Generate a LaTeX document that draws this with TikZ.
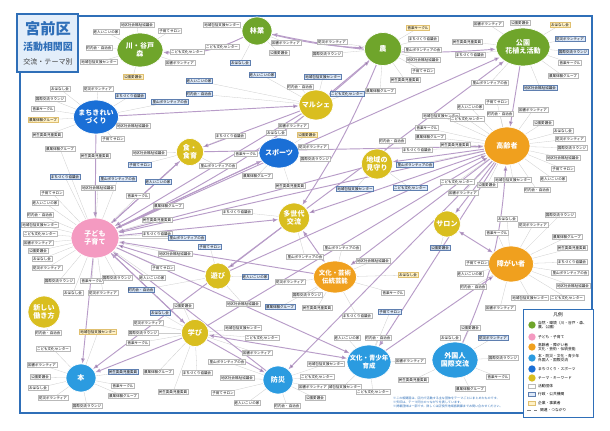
\documentclass[tikz,border=0pt]{standalone}
\usepackage{fontspec}
\setmainfont{Noto Sans CJK JP}
\usetikzlibrary{shapes.geometric,arrows.meta}

\definecolor{hgreen}{HTML}{6FA52B}
\definecolor{hpink}{HTML}{F49AC1}
\definecolor{horange}{HTML}{F0A01E}
\definecolor{hyellow}{HTML}{D9BE1F}
\definecolor{hnavy}{HTML}{1A6FD6}
\definecolor{hblue}{HTML}{2B9BE0}
\definecolor{linkc}{HTML}{B89CC8}
\definecolor{framec}{HTML}{2F6FB8}
\definecolor{titlefill}{HTML}{E3EEFA}
\definecolor{boxblue}{HTML}{DCE8F8}
\definecolor{boxblueline}{HTML}{5F7FB0}
\definecolor{boxyellow}{HTML}{FFF1C6}
\definecolor{boxyellowline}{HTML}{E0C070}

\pgfdeclarelayer{bg}
\pgfdeclarelayer{arr}
\pgfsetlayers{bg,arr,main}

% names for the small group boxes
\newcommand\grpname[1]{\ifcase#1 里山ボランティアの会\or 地区社会福祉協議会\or 子育てサロン\or 老人いこいの家\or 町内会・自治会\or 地域包括支援センター\or こども文化センター\or 図書ボランティア\or 公園愛護会\or おはなし会\or 防災ボランティア\or 国際交流ラウンジ\or 音楽サークル\or 農業体験グループ\or 民生委員児童委員\or まちづくり協議会\fi}

\begin{document}
\begin{tikzpicture}[x=0.03cm,y=-0.03cm,>={Latex[length=4.5pt,width=3.5pt]},
  hub/.style={ellipse,draw=white,line width=0.6pt,inner sep=0pt},
  hubtext/.style={text=white,font=\fontsize{6}{7}\selectfont\bfseries,align=center},
  wbox/.style={draw=gray!55,fill=white,inner sep=0.8pt,line width=0.3pt,font=\fontsize{3}{3.5}\selectfont},
  bbox/.style={wbox,fill=boxblue,draw=boxblueline},
  ybox/.style={wbox,fill=boxyellow,draw=boxyellowline},
  tie/.style={gray!40,line width=0.25pt},
  link/.style={draw=linkc,line width=0.8pt,->},
  legtext/.style={anchor=west,font=\fontsize{3.2}{3.8}\selectfont,align=left,inner sep=0pt}]

\begin{pgfonlayer}{bg}
\fill[white] (0,0) rectangle (610,431);
\end{pgfonlayer}
\draw[framec,line width=0.9pt] (20,16) rectangle (592,413);

% title
\draw[framec,fill=titlefill,line width=0.9pt] (17,14) rectangle (78,72);
\node[text=framec,font=\fontsize{13}{14}\selectfont\bfseries] (title) at (48,29) {宮前区};
\node[text=framec,font=\fontsize{8.5}{9}\selectfont\bfseries] (subtitle) at (48,47) {活動相関図};
\node[text=black!75,font=\fontsize{6}{7}\selectfont] (theme) at (48,62) {交流・テーマ別};

% themes
\node[hub,fill=hgreen,minimum width=1.38cm,minimum height=1.02cm,label={[hubtext]center:川・谷戸\\森}] (kawa) at (140,50) {};
\node[hub,fill=hgreen,minimum width=0.9cm,minimum height=0.84cm,label={[hubtext]center:林業}] (rin) at (257,31) {};
\node[hub,fill=hgreen,minimum width=1.11cm,minimum height=0.99cm,label={[hubtext]center:農}] (nou) at (383,49) {};
\node[hub,fill=hgreen,minimum width=1.62cm,minimum height=1.14cm,label={[hubtext]center:公園\\花植え活動}] (koen) at (523,47) {};
\node[hub,fill=hnavy,minimum width=1.35cm,minimum height=1.02cm,label={[hubtext]center:まちきれい\\づくり}] (machi) at (96,117) {};
\node[hub,fill=hyellow,minimum width=1.02cm,minimum height=0.9cm,label={[hubtext]center:マルシェ}] (marche) at (316,105) {};
\node[hub,fill=hyellow,minimum width=0.81cm,minimum height=0.81cm,label={[hubtext]center:食・\\食育}] (shoku) at (190,152) {};
\node[hub,fill=hnavy,minimum width=1.2cm,minimum height=0.9cm,label={[hubtext]center:スポーツ}] (sports) at (279,153) {};
\node[hub,fill=horange,minimum width=1.38cm,minimum height=1.14cm,label={[hubtext]center:高齢者}] (kourei) at (507,146) {};
\node[hub,fill=hyellow,minimum width=0.93cm,minimum height=0.9cm,label={[hubtext]center:地域の\\見守り}] (mimamori) at (377,164) {};
\node[hub,fill=hyellow,minimum width=0.93cm,minimum height=0.9cm,label={[hubtext]center:多世代\\交流}] (tasedai) at (294,218) {};
\node[hub,fill=hpink,minimum width=1.44cm,minimum height=1.2cm,label={[hubtext]center:子ども\\子育て}] (kodomo) at (95,238) {};
\node[hub,fill=hyellow,minimum width=0.81cm,minimum height=0.78cm,label={[hubtext]center:サロン}] (salon) at (447,224) {};
\node[hub,fill=hyellow,minimum width=0.78cm,minimum height=0.78cm,label={[hubtext]center:遊び}] (asobi) at (218,276) {};
\node[hub,fill=horange,minimum width=1.29cm,minimum height=0.96cm,label={[hubtext,font=\fontsize{5.5}{6.5}\selectfont\bfseries]center:文化・芸術\\伝統芸能}] (bunka) at (335,277) {};
\node[hub,fill=horange,minimum width=1.35cm,minimum height=1.08cm,label={[hubtext]center:障がい者}] (shogai) at (511,264) {};
\node[hub,fill=hyellow,minimum width=0.96cm,minimum height=0.96cm,label={[hubtext]center:新しい\\働き方}] (hataraki) at (44,312) {};
\node[hub,fill=hyellow,minimum width=0.81cm,minimum height=0.81cm,label={[hubtext]center:学び}] (manabi) at (195,333) {};
\node[hub,fill=hblue,minimum width=0.9cm,minimum height=0.84cm,label={[hubtext]center:本}] (hon) at (81,378) {};
\node[hub,fill=hblue,minimum width=0.9cm,minimum height=0.84cm,label={[hubtext]center:防災}] (bousai) at (278,380) {};
\node[hub,fill=hblue,minimum width=1.32cm,minimum height=1.02cm,label={[hubtext,font=\fontsize{5.5}{6.5}\selectfont\bfseries]center:文化・青少年\\育成}] (seishonen) at (369,362) {};
\node[hub,fill=hblue,minimum width=1.38cm,minimum height=1.08cm,label={[hubtext]center:外国人\\国際交流}] (gaikoku) at (455,360) {};

% groups around each theme
\foreach \bx/\by/\hb/\st [count=\i] in {
  137/25/kawa/wbox, 170/31/kawa/wbox, 106/32/kawa/wbox, 99/48/kawa/wbox, 99/62/kawa/wbox,
  187/52/kawa/wbox, 180/63/kawa/wbox, 133/77/kawa/ybox,
  60/89/machi/wbox, 98/89/machi/wbox, 50/99/machi/wbox, 43/109/machi/wbox, 43/120/machi/ybox,
  47/135/machi/wbox, 130/96/machi/bbox, 170/102/machi/bbox, 133/126/machi/wbox, 113/139/machi/wbox,
  199/81/marche/bbox, 199/94/marche/bbox,
  222/25/rin/wbox, 222/47/rin/wbox, 286/43/rin/wbox, 279/53/rin/wbox, 240/63/rin/bbox,
  332/42/nou/wbox, 327/54/nou/wbox, 418/28/nou/ybox, 380/91/nou/wbox, 405/80/nou/wbox,
  423/39/nou/wbox, 423/50/nou/wbox, 423/60/nou/wbox, 423/71/nou/wbox,
  262/75/marche/bbox, 300/87/marche/wbox, 323/77/marche/bbox, 347/94/marche/bbox, 293/126/marche/wbox,
  307/135/sports/ybox, 276/133/sports/wbox, 313/147/sports/wbox, 315/159/sports/wbox,
  246/154/sports/wbox, 257/176/sports/wbox, 290/186/sports/wbox,
  230/136/shoku/wbox, 218/166/shoku/wbox, 149/153/shoku/wbox, 140/165/shoku/bbox, 158/182/shoku/bbox,
  392/141/mimamori/wbox, 355/189/mimamori/bbox, 410/188/mimamori/bbox,
  488/24/koen/wbox, 520/23/koen/wbox, 560/25/koen/ybox, 570/39/koen/bbox, 573/52/koen/bbox,
  570/63/koen/wbox, 563/76/koen/wbox, 467/42/koen/wbox, 470/55/koen/wbox, 490/83/koen/wbox, 540/88/koen/bbox,
  497/102/kourei/wbox, 470/107/kourei/wbox, 500/114/kourei/wbox, 441/116/kourei/wbox, 467/119/kourei/wbox,
  533/110/kourei/wbox, 543/123/kourei/wbox, 563/131/kourei/wbox, 570/139/kourei/wbox, 572/148/kourei/wbox,
  427/128/kourei/wbox, 430/137/kourei/wbox, 455/145/kourei/wbox, 417/150/kourei/wbox, 415/165/kourei/bbox,
  563/158/kourei/wbox, 563/169/kourei/wbox, 553/179/kourei/wbox, 537/190/kourei/wbox, 513/180/kourei/wbox,
  457/182/kourei/wbox, 463/193/kourei/wbox, 487/185/kourei/wbox,
  507/219/shogai/wbox, 533/225/shogai/wbox, 560/215/shogai/wbox, 497/233/shogai/wbox, 567/237/shogai/wbox,
  572/248/shogai/wbox, 572/262/shogai/wbox, 570/273/shogai/wbox, 573/286/shogai/wbox,
  477/263/shogai/wbox, 470/274/shogai/wbox, 473/287/shogai/wbox, 530/298/shogai/wbox, 567/298/shogai/wbox, 500/308/shogai/wbox,
  440/248/salon/bbox,
  408/275/bunka/ybox, 290/282/bunka/wbox, 307/295/bunka/wbox, 393/293/bunka/wbox, 280/307/bunka/bbox,
  317/308/bunka/wbox, 357/316/bunka/wbox, 342/248/bunka/wbox, 373/261/bunka/wbox,
  390/312/seishonen/bbox, 347/338/seishonen/wbox, 378/338/seishonen/wbox, 343/387/seishonen/wbox,
  373/392/seishonen/wbox, 410/361/seishonen/wbox,
  470/328/gaikoku/wbox, 450/338/gaikoku/wbox, 493/338/gaikoku/bbox, 503/358/gaikoku/wbox,
  498/377/gaikoku/wbox, 470/389/gaikoku/wbox, 413/380/gaikoku/wbox,
  237/212/tasedai/wbox, 305/257/tasedai/wbox,
  243/304/asobi/wbox, 210/247/asobi/bbox, 255/277/asobi/bbox, 141/290/asobi/bbox,
  243/328/manabi/wbox, 262/338/manabi/wbox, 257/353/manabi/wbox, 183/306/manabi/wbox, 160/313/manabi/bbox,
  148/323/manabi/wbox, 143/333/manabi/wbox, 138/343/manabi/wbox, 158/372/manabi/wbox, 173/392/manabi/wbox, 197/373/manabi/wbox,
  227/362/bousai/wbox, 237/378/bousai/wbox, 223/393/bousai/wbox, 247/403/bousai/wbox, 287/406/bousai/wbox,
  326/364/bousai/wbox, 317/377/bousai/wbox, 313/387/bousai/wbox, 315/398/bousai/wbox,
  73/293/kodomo/wbox, 103/293/kodomo/wbox, 59/281/kodomo/wbox, 92/281/kodomo/wbox, 60/149/kodomo/wbox,
  95/156/kodomo/wbox, 65/177/kodomo/bbox, 118/179/kodomo/bbox, 98/188/kodomo/wbox, 52/193/kodomo/wbox,
  45/203/kodomo/wbox, 40/215/kodomo/wbox, 40/225/kodomo/wbox, 40/234/kodomo/wbox, 38/243/kodomo/wbox,
  38/251/kodomo/wbox, 42/259/kodomo/wbox, 47/268/kodomo/wbox, 117/278/kodomo/wbox, 138/196/kodomo/wbox,
  168/206/kodomo/wbox, 157/220/kodomo/wbox, 157/234/kodomo/wbox, 187/238/kodomo/bbox, 175/254/kodomo/wbox,
  163/268/kodomo/wbox, 152/278/kodomo/wbox,
  48/333/hataraki/wbox,
  98/332/hon/ybox, 53/349/hon/wbox, 42/365/hon/wbox, 40/377/hon/wbox, 38/388/hon/wbox, 53/398/hon/wbox,
  87/406/hon/wbox, 123/386/hon/wbox, 123/396/hon/wbox, 123/372/hon/bbox} {
  \pgfmathtruncatemacro\k{mod(\i,16)}
  \node[\st] (b\i) at (\bx,\by) {\grpname{\k}};
  \begin{pgfonlayer}{bg}
    \draw[tie] (b\i) -- (\hb);
  \end{pgfonlayer}
}

% links between themes
\begin{pgfonlayer}{arr}
\path[link]
  (rin) edge[<->,bend right=8] (koen)
  (rin) edge[bend right=5] (nou)
  (rin) edge[bend left=15] (kawa)
  (machi) edge (marche)
  (nou) edge (marche)
  (kodomo) edge[bend right=8] (nou)
  (marche) edge (shoku)
  (kodomo) edge (shoku)
  (nou) edge[bend left=5] (tasedai)
  (kourei) edge (tasedai)
  (tasedai) edge[<->] (bunka)
  (kodomo) edge (tasedai)
  (kodomo) edge (sports)
  (kourei) edge (mimamori)
  (kourei) edge (salon)
  (salon) edge[<->] (shogai)
  (koen) edge (kourei)
  (kodomo) edge (koen)
  (tasedai) edge (koen)
  (machi) edge (kodomo)
  (shoku) edge (kodomo)
  (marche) edge (kodomo)
  (sports) edge (kodomo)
  (mimamori) edge (kodomo)
  (kourei) edge (kodomo)
  (asobi) edge (kodomo)
  (bunka) edge (kodomo)
  (manabi) edge (kodomo)
  (bousai) edge (kodomo)
  (kodomo) edge (hon)
  (tasedai) edge (hon)
  (manabi) edge (hon)
  (kodomo) edge (manabi)
  (manabi) edge[<->] (seishonen)
  (manabi) edge (bousai)
  (kourei) edge (bousai)
  (kodomo) edge (seishonen)
  (kourei) edge (seishonen)
  (seishonen) edge (shogai)
  (kourei) edge (bunka)
  (tasedai) edge (asobi)
  (gaikoku) edge[bend right=10] (kourei)
  (asobi) edge (kourei)
  (manabi) edge (kourei)
  (shoku) edge (kourei)
  ;
\end{pgfonlayer}

% legend
\draw[framec,fill=white,line width=0.8pt] (523,309) rectangle (593,417);
\node[font=\fontsize{4}{5}\selectfont] (legtitle) at (558,315) {凡例};
\node[circle,fill=hgreen,minimum size=0.22cm,inner sep=0pt] (lg1) at (532,325) {};
\node[legtext] at (538,325) {自然・環境（川・谷戸・森、\\農、公園）};
\node[circle,fill=hpink,minimum size=0.22cm,inner sep=0pt] (lg2) at (532,337) {};
\node[legtext] at (538,337) {子ども・子育て};
\node[circle,fill=horange,minimum size=0.22cm,inner sep=0pt] (lg3) at (532,347) {};
\node[legtext] at (538,347) {高齢者・障がい者\\文化・芸術・伝統芸能};
\node[circle,fill=hblue,minimum size=0.22cm,inner sep=0pt] (lg4) at (532,358) {};
\node[legtext] at (538,358) {本・防災・文化・青少年\\外国人・国際交流};
\node[circle,fill=hnavy,minimum size=0.22cm,inner sep=0pt] (lg5) at (532,369) {};
\node[legtext] at (538,369) {まちづくり・スポーツ};
\node[circle,fill=hyellow,minimum size=0.22cm,inner sep=0pt] (lg6) at (532,378) {};
\node[legtext] at (538,378) {テーマ・キーワード};
\node[wbox,minimum width=0.22cm,minimum height=0.12cm] (lg7) at (532,386) {};
\node[legtext] at (538,386) {活動団体};
\node[bbox,minimum width=0.22cm,minimum height=0.12cm] (lg8) at (532,394) {};
\node[legtext] at (538,394) {行政・公共機関};
\node[ybox,minimum width=0.22cm,minimum height=0.12cm] (lg9) at (532,403) {};
\node[legtext] at (538,403) {企業・事業者};
\coordinate (lga) at (527,410);
\coordinate (lgb) at (537,410);
\draw[gray,dashed,line width=0.4pt] (lga) -- (lgb);
\node[legtext] at (540,410) {関連・つながり};

% notes
\node[anchor=north west,text=framec,align=left,inner sep=0pt,font=\fontsize{2.6}{3.4}\selectfont] (notes) at (393,397)
  {※この相関図は、区内で活動する主な団体をテーマごとにまとめたものです。\\
   ※矢印は、テーマ同士のつながりを表しています。\\
   ※掲載団体は一部です。詳しくは区役所地域振興課までお問い合わせください。};
\end{tikzpicture}
\end{document}
